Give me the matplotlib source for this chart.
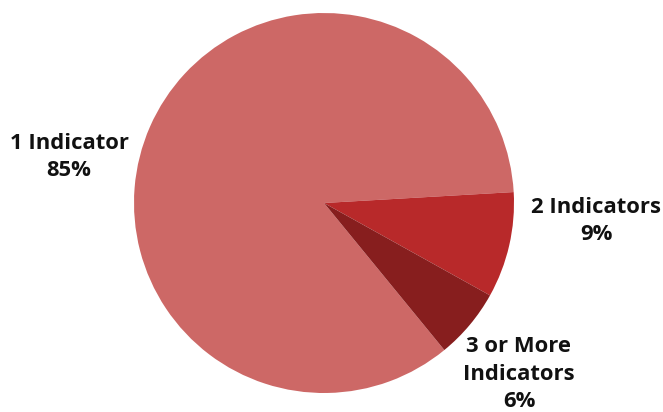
import matplotlib
matplotlib.use("Agg")
import matplotlib.pyplot as plt

# Share of records by number of indicators
categories = ["1 Indicator", "2 Indicators", "3 or More\nIndicators"]
shares = [85, 9, 6]
colors = ["#CD6866", "#B8292A", "#871E1E"]

# label anchor points (pie radius = 1)
label_xy = [(-1.342, 0.242), (1.432, -0.095), (1.026, -0.900)]

fig = plt.figure(figsize=(6.63, 4.12), dpi=100)
ax = fig.add_axes([0, 0, 1, 1])

ax.pie(shares, colors=colors, startangle=309.3, counterclock=False,
       radius=1.0, center=(0, 0), wedgeprops=dict(linewidth=0))

for cat, val, (x, y) in zip(categories, shares, label_xy):
    ax.text(x, y, f"{cat}\n{val}%", ha="center", va="center",
            fontsize=15.8, fontweight="bold", family="Open Sans",
            color="#111111", linespacing=1.4)

ax.set_xlim(-324 / 190, 339 / 190)
ax.set_ylim(-209 / 190, 203 / 190)
ax.set_aspect("equal")
ax.axis("off")

fig.savefig("out.png", dpi=100)
